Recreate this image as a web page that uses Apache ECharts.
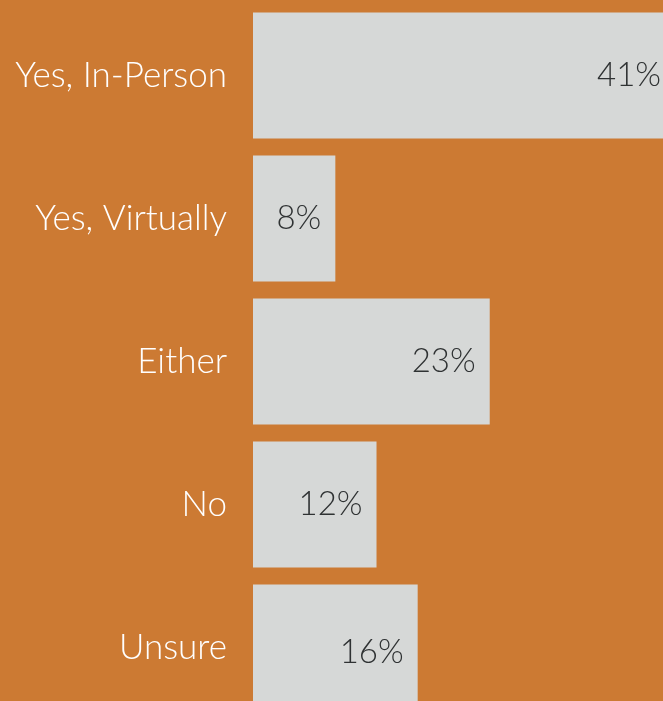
<!DOCTYPE html>
<html>
<head>
<meta charset="utf-8">
<script src="https://cdn.jsdelivr.net/npm/echarts@6/dist/echarts.min.js"></script>
<style>
html,body{margin:0;padding:0;background:#CC7A33;}
#chart{width:663px;height:701px;}
</style>
</head>
<body>
<div id="chart"></div>
<script>
const categories = ["Yes, In-Person", "Yes, Virtually", "Either", "No", "Unsure"];
const values = [41, 8, 23, 12, 16];

const chart = echarts.init(document.getElementById('chart'), null, {renderer: 'canvas'});
const option = {
  backgroundColor: '#CC7A33',
  animation: false,
  grid: {left: 253, top: 4, width: 422, height: 715, containLabel: false, outerBoundsMode: 'none'},
  xAxis: {
    type: 'value', min: 0, max: 41, show: false
  },
  yAxis: {
    type: 'category', data: categories, inverse: true,
    axisLine: {show: false}, axisTick: {show: false}, splitLine: {show: false},
    axisLabel: {
      color: '#FFFFFF', fontFamily: 'Lato', fontWeight: 300, fontSize: 35, margin: 26
    }
  },
  series: [{
    type: 'bar',
    data: values.map((v, i) => ({
      value: v,
      label: i === values.length - 1 ? {offset: [0, 5]} : {}
    })),
    barWidth: 126,
    clip: false,
    itemStyle: {color: '#D6D8D7'},
    label: {
      show: true, position: 'insideRight', distance: 14,
      color: '#2F3233', fontFamily: 'Lato', fontWeight: 300, fontSize: 33,
      formatter: p => p.value + '%'
    }
  }]
};
chart.setOption(option);
</script>
</body>
</html>
